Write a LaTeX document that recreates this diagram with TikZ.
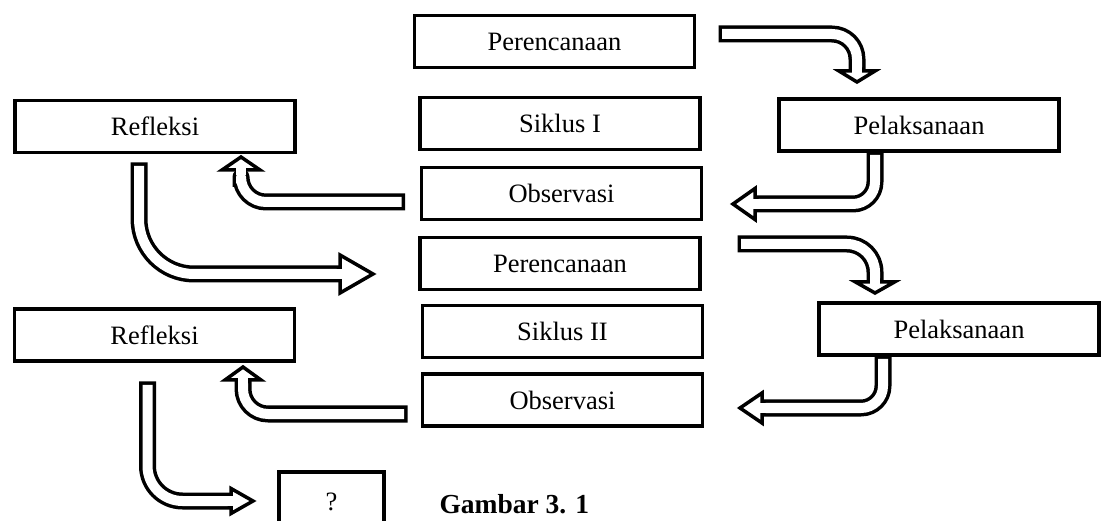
\documentclass[tikz,border=0pt]{standalone}
\usepackage{fontspec}
\setmainfont{Liberation Serif}
\usetikzlibrary{calc}
\tikzset{
  box/.style={draw=black, line width=3.5, minimum width=280, minimum height=52, inner sep=0,
              font=\fontsize{26.5}{30}\selectfont},
  arrshaft/.style={draw=black, line width=3.5, double=white, double distance=10,
                   line cap=rect, line join=round, rounded corners=#1},
  arrshaft/.default=25,
  arrhead/.style={fill=white, draw=black, line width=3.5, line join=miter},
}
\newcommand\myhead[3]{%
  \filldraw[arrhead] ($(#1)!#3pt!90:(#2)$) -- (#2) -- ($(#1)!#3pt!-90:(#2)$) -- cycle;
  \draw[white, line width=10] ($(#1)!-5.5pt!(#2)$) -- ($(#1)!2.5pt!(#2)$);
}
\begin{document}
\begin{tikzpicture}[x=1pt,y=-1pt]
\path[use as bounding box] (0,0) rectangle (1101,521);
\clip (0,0) rectangle (1101,521);
\fill[white] (0,0) rectangle (1101,521);

% boxes
\node[box] (P1) at (554.5,41.5) {Perencanaan};
\node[box] (S1) at (560,123.5) {Siklus I};
\node[box] (O1) at (561.5,193.5) {Observasi};
\node[box] (P2) at (560,263.5) {Perencanaan};
\node[box] (S2) at (562.5,331.5) {Siklus II};
\node[box] (O2) at (562.5,400) {Observasi};
\node[box] (R1) at (155,126.5) {Refleksi};
\node[box] (R2) at (154.5,335) {Refleksi};
\node[box] (L1) at (919,125) {Pelaksanaan};
\node[box] (L2) at (959,329) {Pelaksanaan};
\node[box, minimum width=105, minimum height=72] (Q) at (331.5,508) {};
\node[font=\fontsize{26.5}{30}\selectfont] (qm) at (331.5,502) {?};
\node[anchor=west, font=\bfseries\fontsize{27.5}{30}\selectfont] (cap) at (436,504) {Gambar 3. 1};

% arrow points
\coordinate (a1s) at (727,34);   \coordinate (a1c) at (857,34);  \coordinate (a1e) at (857,62.5);
\coordinate (a1b) at (857,71);   \coordinate (a1t) at (857,82);
\coordinate (a2s) at (875,160);  \coordinate (a2c) at (875,204); \coordinate (a2e) at (763.5,204);
\coordinate (a2b) at (755,204);  \coordinate (a2t) at (733,204);
\coordinate (a3s) at (396.5,202);\coordinate (a3c) at (241,202); \coordinate (a3e) at (241,178.5);
\coordinate (a3b) at (241,170);  \coordinate (a3t) at (241,157);
\coordinate (a4s) at (139,171);  \coordinate (a4c) at (139,274); \coordinate (a4e) at (331.5,274);
\coordinate (a4b) at (340,274);  \coordinate (a4t) at (373,274);
\coordinate (a5s) at (746,244);  \coordinate (a5c) at (875,244); \coordinate (a5e) at (875,273.5);
\coordinate (a5b) at (875,282);  \coordinate (a5t) at (875,293);
\coordinate (a6s) at (883,364);  \coordinate (a6c) at (883,408); \coordinate (a6e) at (770.5,408);
\coordinate (a6b) at (762,408);  \coordinate (a6t) at (740,408);
\coordinate (a7s) at (399,414);  \coordinate (a7c) at (243,414); \coordinate (a7e) at (243,388.5);
\coordinate (a7b) at (243,380);  \coordinate (a7t) at (243,367);
\coordinate (a8s) at (147.5,390);\coordinate (a8c) at (147.5,501);\coordinate (a8e) at (222.5,501);
\coordinate (a8b) at (231,501);  \coordinate (a8t) at (253,501);

% block arrows
\draw[arrshaft=25] (a1s) -- (a1c) -- (a1e);  \myhead{a1b}{a1t}{18}
\draw[arrshaft=22] (a2s) -- (a2c) -- (a2e);  \myhead{a2b}{a2t}{15.5}
\draw[arrshaft=25] (a3s) -- (a3c) -- (a3e);  \myhead{a3b}{a3t}{19}
\draw[arrshaft=55] (a4s) -- (a4c) -- (a4e);  \myhead{a4b}{a4t}{19}
\draw[arrshaft=28] (a5s) -- (a5c) -- (a5e);  \myhead{a5b}{a5t}{19.5}
\draw[arrshaft=22] (a6s) -- (a6c) -- (a6e);  \myhead{a6b}{a6t}{15}
\draw[arrshaft=25] (a7s) -- (a7c) -- (a7e);  \myhead{a7b}{a7t}{18}
\draw[arrshaft=35] (a8s) -- (a8c) -- (a8e);  \myhead{a8b}{a8t}{12.5}
\end{tikzpicture}
\end{document}
